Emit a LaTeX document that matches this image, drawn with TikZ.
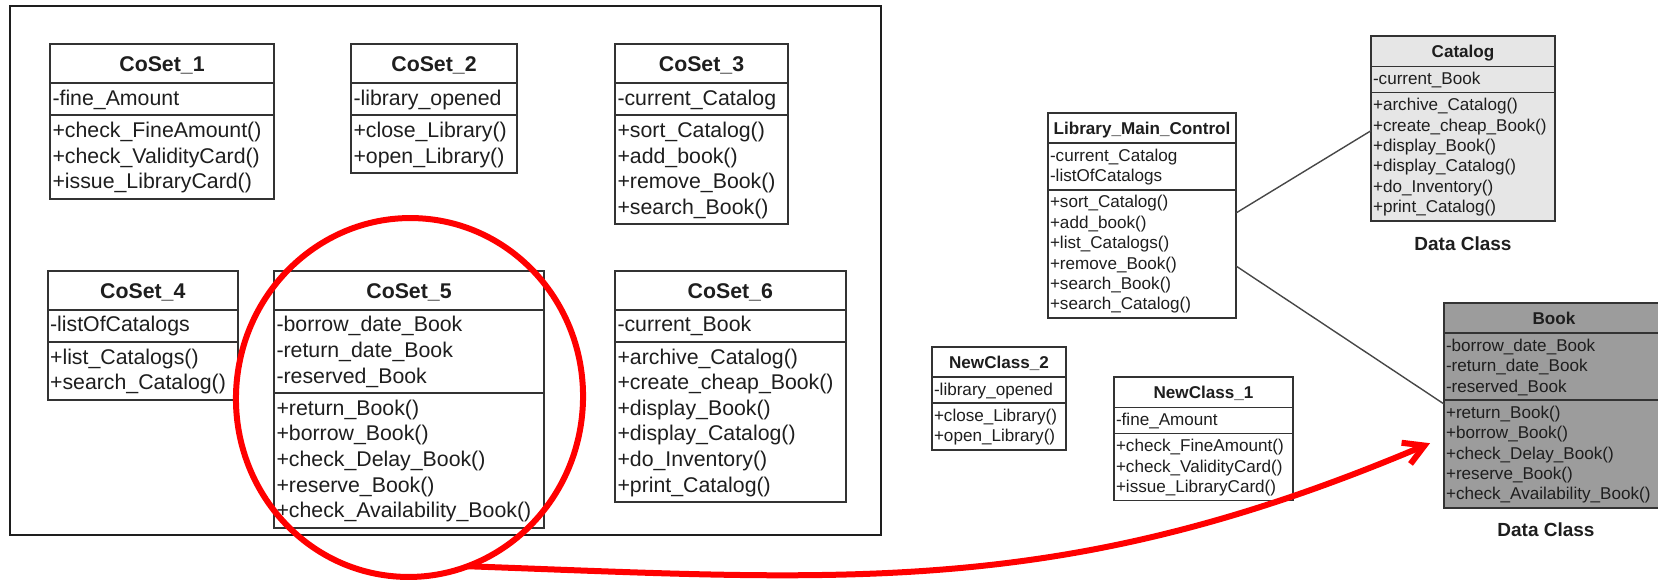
\documentclass[tikz,border=0pt]{standalone}
\usepackage{fontspec}
\setmainfont{Liberation Sans}
\usetikzlibrary{shapes.multipart,shapes.geometric,arrows.meta,calc}

\definecolor{ink}{HTML}{1E1E1E}
\definecolor{boxline}{HTML}{333333}
\definecolor{lightfill}{HTML}{E6E6E6}
\definecolor{darkfill}{HTML}{9C9C9C}
\definecolor{mark}{RGB}{255,0,0}

% text sizes and row struts for the two box sizes
\newcommand\bigtype{\fontsize{21.3pt}{25.6pt}\selectfont\lineskiplimit=-5pt\relax}
\newcommand\smalltype{\fontsize{17.1pt}{20.4pt}\selectfont\lineskiplimit=-5pt\relax}
\newcommand\rowL{\rule[-6.8pt]{0pt}{25.6pt}}
\newcommand\ttlL{\rule[-8.35pt]{0pt}{32.5pt}}
\newcommand\rowS{\rule[-5pt]{0pt}{20.4pt}}
\newcommand\ttlS{\rule[-6.2pt]{0pt}{24.7pt}}

\tikzset{
  cls/.style={rectangle split, rectangle split parts=3,
    rectangle split part align={center,left,left},
    draw=boxline, fill=white, outer sep=0pt, anchor=north west,
    align=left, text=ink},
  bigcls/.style={cls, line width=2pt, inner xsep=2.5pt, inner ysep=2.3pt, font=\bigtype},
  smallcls/.style={cls, line width=1.8pt, inner xsep=2pt, inner ysep=1.95pt, font=\smalltype},
  frame/.style={draw=ink, line width=2pt},
  assoc/.style={draw=boxline!90, line width=1.4pt},
  dlabel/.style={text=ink, font=\fontsize{19pt}{22pt}\selectfont\bfseries},
  hilite/.style={ellipse, draw=mark, line width=6pt, inner sep=0pt, outer sep=0pt},
  redarrow/.style={draw=mark, line width=6pt, -{Straight Barb[length=20pt,width=23pt]}},
}

\begin{document}
\begin{tikzpicture}[x=1pt,y=-1pt]
\useasboundingbox (0,0) rectangle (1658,581);

% enclosing frame of the candidate sets
\draw[frame] (9.5,6.3) rectangle (880.7,535);

% candidate sets
\node[bigcls, minimum width=224pt] (c1) at (50,44)
  {\ttlL\textbf{CoSet\_1}
   \nodepart{two}\rowL-fine\_Amount
   \nodepart{three}\rowL+check\_FineAmount()\\\rowL+check\_ValidityCard()\\\rowL+issue\_LibraryCard()};

\node[bigcls, minimum width=166pt] (c2) at (351,44)
  {\ttlL\textbf{CoSet\_2}
   \nodepart{two}\rowL-library\_opened
   \nodepart{three}\rowL+close\_Library()\\\rowL+open\_Library()};

\node[bigcls, minimum width=173pt] (c3) at (615,44)
  {\ttlL\textbf{CoSet\_3}
   \nodepart{two}\rowL-current\_Catalog
   \nodepart{three}\rowL+sort\_Catalog()\\\rowL+add\_book()\\\rowL+remove\_Book()\\\rowL+search\_Book()};

\node[bigcls, minimum width=190.4pt] (c4) at (47.6,270.7)
  {\ttlL\textbf{CoSet\_4}
   \nodepart{two}\rowL-listOfCatalogs
   \nodepart{three}\rowL+list\_Catalogs()\\\rowL+search\_Catalog()};

\node[bigcls, minimum width=270pt] (c5) at (274,270.7)
  {\ttlL\textbf{CoSet\_5}
   \nodepart{two}\rowL-borrow\_date\_Book\\\rowL-return\_date\_Book\\\rowL-reserved\_Book
   \nodepart{three}\rowL+return\_Book()\\\rowL+borrow\_Book()\\\rowL+check\_Delay\_Book()\\\rowL+reserve\_Book()\\\rowL+check\_Availability\_Book()};

\node[bigcls, minimum width=230.6pt] (c6) at (615,270.7)
  {\ttlL\textbf{CoSet\_6}
   \nodepart{two}\rowL-current\_Book
   \nodepart{three}\rowL+archive\_Catalog()\\\rowL+create\_cheap\_Book()\\\rowL+display\_Book()\\\rowL+display\_Catalog()\\\rowL+do\_Inventory()\\\rowL+print\_Catalog()};

% resulting classes
\node[smallcls, minimum width=184pt, fill=lightfill] (cat) at (1371,36)
  {\ttlS\textbf{Catalog}
   \nodepart{two}\rowS-current\_Book
   \nodepart{three}\rowS+archive\_Catalog()\\\rowS+create\_cheap\_Book()\\\rowS+display\_Book()\\\rowS+display\_Catalog()\\\rowS+do\_Inventory()\\\rowS+print\_Catalog()};

\node[smallcls, minimum width=188pt] (lmc) at (1048,112.7)
  {\ttlS\textbf{Library\_Main\_Control}
   \nodepart{two}\rowS-current\_Catalog\\\rowS-listOfCatalogs
   \nodepart{three}\rowS+sort\_Catalog()\\\rowS+add\_book()\\\rowS+list\_Catalogs()\\\rowS+remove\_Book()\\\rowS+search\_Book()\\\rowS+search\_Catalog()};

\node[smallcls, minimum width=220pt, fill=darkfill] (book) at (1444,302.7)
  {\ttlS\textbf{Book}
   \nodepart{two}\rowS-borrow\_date\_Book\\\rowS-return\_date\_Book\\\rowS-reserved\_Book
   \nodepart{three}\rowS+return\_Book()\\\rowS+borrow\_Book()\\\rowS+check\_Delay\_Book()\\\rowS+reserve\_Book()\\\rowS+check\_Availability\_Book()};

\node[smallcls, minimum width=134pt] (nc2) at (932,346.7)
  {\ttlS\textbf{NewClass\_2}
   \nodepart{two}\rowS-library\_opened
   \nodepart{three}\rowS+close\_Library()\\\rowS+open\_Library()};

\node[smallcls, minimum width=179pt] (nc1) at (1114,377)
  {\ttlS\textbf{NewClass\_1}
   \nodepart{two}\rowS-fine\_Amount
   \nodepart{three}\rowS+check\_FineAmount()\\\rowS+check\_ValidityCard()\\\rowS+issue\_LibraryCard()};

% stereotype captions
\node[dlabel] (catLbl) at ($(cat.south west)!0.5!(cat.south east)+(0,23)$) {Data Class};
\node[dlabel] (bookLbl) at ($(book.south west)+(102,22)$) {Data Class};

% associations
\draw[assoc] ($(lmc.north east)+(0,100.3)$) -- ($(cat.north west)+(0,94.7)$);
\draw[assoc] ($(lmc.north east)+(0,153.3)$) -- ($(book.two split west)+(0,4)$);

% highlighted set and where it goes
\node[hilite, minimum width=347pt, minimum height=359pt, rotate=-5] (hl) at (409.5,397.5) {};
\coordinate (tipB) at ($(book.north west)+(-14,140.5)$);
\draw[redarrow] (hl.-66) .. controls (847,580) and (1062,599) .. (tipB);
\end{tikzpicture}
\end{document}
